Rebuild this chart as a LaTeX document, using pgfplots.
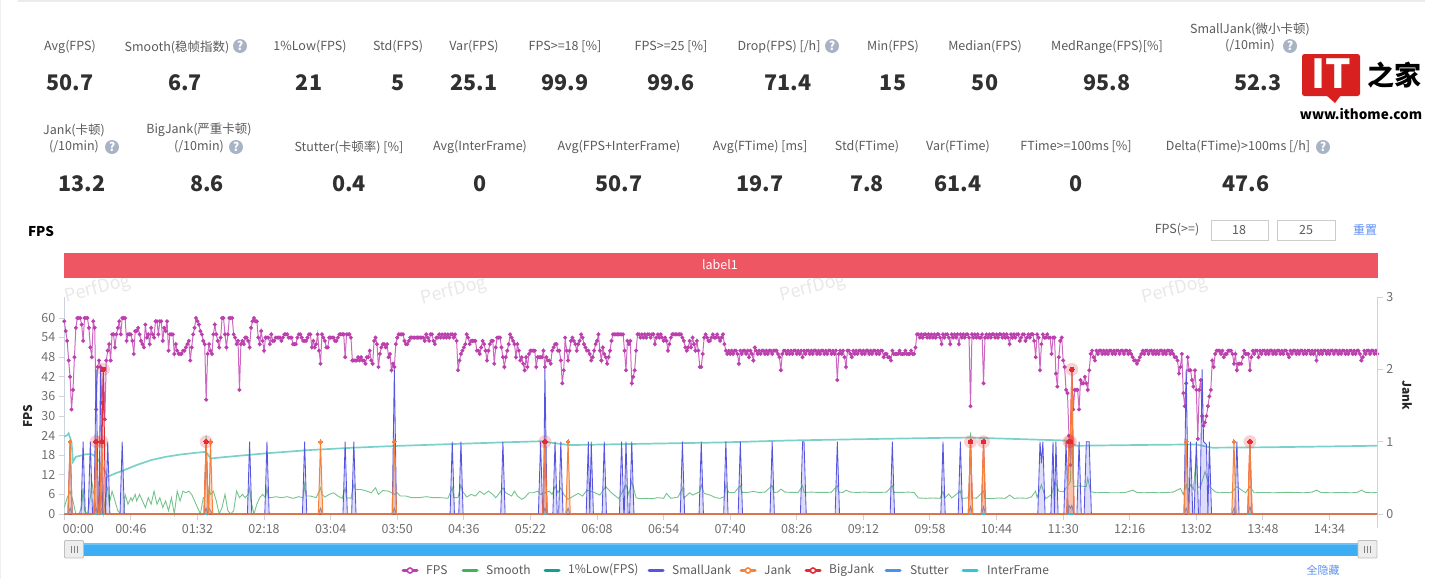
\documentclass[border=0pt]{standalone}
\usepackage{pgfplots}
\usepackage{pgfplotstable}
\usepackage{fontspec}
\pgfplotsset{compat=1.18}
\setmainfont{Noto Sans CJK SC}

\definecolor{fpsline}{HTML}{CC68C1}
\definecolor{fpsmark}{HTML}{BB3FAC}
\definecolor{smoothc}{HTML}{74C48B}
\definecolor{smoothl}{HTML}{3FB25E}
\definecolor{lowc}{HTML}{7AD1CB}
\definecolor{lowl}{HTML}{14A08F}
\definecolor{smalljc}{HTML}{5555E0}
\definecolor{jankc}{HTML}{F5813B}
\definecolor{bigjc}{HTML}{E32B36}
\definecolor{stutc}{HTML}{4A90F0}
\definecolor{interc}{HTML}{2FC6D8}
\definecolor{axisc}{HTML}{CCD3DE}
\definecolor{tickc}{HTML}{6E6E6E}
\definecolor{labc}{HTML}{5A5A5A}
\definecolor{valc}{HTML}{303030}
\definecolor{qc}{HTML}{A9B3C6}
\definecolor{barc}{HTML}{EE5664}
\definecolor{slidec}{HTML}{3DAEF3}
\definecolor{linkc}{HTML}{5C8FF0}
\definecolor{logoc}{HTML}{D8211F}

\newcommand\fs[1]{\fontsize{#1}{#1}\selectfont}
\newcommand\qm[2]{\fill[qc] (#1,#2) circle (7);\node[text=white,font=\fs{12}\bfseries] at (#1,#2) {?};}
\newcommand\lab[3]{\node[text=labc,font=\fs{12.5}] at (#1,#2) {#3};}
\newcommand\val[3]{\node[text=valc,font=\fs{21.5}\bfseries] at (#1,#2) {#3};}

% FPS, one value per second
\pgfplotstableread[row sep=crcr,header=false]{
59\\56\\53\\47\\42\\32\\38\\48\\57\\60\\60\\60\\58\\53\\60\\60\\60\\57\\51\\48\\
59\\57\\32\\45\\47\\45\\34\\44\\29\\47\\50\\52\\47\\55\\55\\51\\55\\57\\59\\55\\
60\\60\\60\\53\\55\\55\\55\\53\\49\\56\\56\\57\\55\\53\\52\\51\\58\\54\\55\\52\\
57\\55\\54\\59\\59\\55\\59\\59\\53\\57\\56\\59\\50\\55\\55\\55\\49\\52\\50\\49\\
49\\49\\50\\50\\51\\52\\53\\47\\51\\55\\57\\60\\59\\58\\56\\55\\53\\52\\35\\49\\
52\\50\\49\\55\\58\\55\\53\\51\\54\\60\\60\\55\\51\\55\\60\\60\\60\\55\\54\\52\\
53\\38\\52\\53\\52\\54\\54\\53\\51\\57\\59\\60\\59\\59\\54\\52\\56\\53\\50\\54\\
54\\54\\52\\55\\53\\53\\54\\54\\54\\54\\53\\54\\55\\55\\55\\54\\54\\54\\52\\52\\
52\\54\\55\\55\\54\\53\\53\\53\\54\\55\\55\\51\\53\\51\\52\\55\\50\\46\\55\\54\\
53\\51\\51\\54\\54\\54\\54\\53\\53\\54\\55\\55\\55\\55\\48\\55\\55\\55\\54\\47\\
47\\47\\47\\48\\47\\48\\47\\47\\46\\48\\48\\50\\47\\46\\53\\54\\52\\45\\49\\51\\
52\\52\\51\\52\\48\\49\\44\\46\\45\\52\\54\\55\\55\\55\\55\\53\\52\\52\\53\\54\\
54\\54\\54\\54\\54\\54\\54\\54\\54\\53\\55\\54\\53\\55\\55\\53\\52\\54\\54\\55\\
54\\55\\54\\55\\54\\55\\54\\55\\55\\54\\55\\53\\44\\47\\49\\50\\51\\52\\55\\54\\
52\\53\\53\\53\\53\\50\\50\\49\\51\\53\\52\\50\\47\\50\\52\\53\\53\\46\\51\\54\\
54\\54\\51\\48\\45\\48\\50\\52\\55\\54\\53\\52\\48\\52\\50\\47\\48\\46\\44\\48\\
45\\49\\50\\50\\50\\50\\45\\48\\48\\48\\48\\50\\45\\48\\47\\47\\46\\50\\51\\52\\
52\\50\\50\\47\\40\\44\\54\\50\\47\\50\\53\\54\\53\\52\\50\\52\\53\\55\\54\\52\\
51\\50\\50\\49\\47\\48\\50\\52\\53\\55\\50\\47\\51\\49\\48\\46\\48\\50\\53\\55\\
55\\55\\55\\55\\55\\55\\55\\50\\44\\53\\52\\53\\40\\42\\44\\50\\55\\55\\54\\55\\
54\\55\\54\\55\\55\\54\\55\\55\\52\\54\\55\\54\\55\\54\\53\\54\\53\\50\\52\\54\\
55\\55\\55\\55\\55\\55\\55\\54\\53\\51\\50\\51\\53\\51\\54\\52\\50\\53\\50\\45\\
45\\49\\54\\55\\54\\53\\53\\54\\55\\54\\54\\55\\54\\53\\54\\55\\52\\50\\49\\50\\
49\\50\\49\\50\\50\\49\\46\\50\\49\\50\\50\\49\\50\\48\\50\\49\\47\\51\\50\\49\\
50\\49\\50\\50\\49\\50\\49\\50\\50\\49\\50\\50\\50\\49\\48\\44\\49\\50\\50\\49\\
50\\49\\50\\49\\50\\50\\49\\50\\49\\50\\48\\50\\49\\50\\50\\49\\50\\49\\50\\50\\
49\\50\\49\\50\\50\\49\\50\\49\\50\\50\\49\\50\\49\\50\\41\\49\\50\\49\\50\\48\\
45\\50\\50\\49\\48\\50\\49\\50\\49\\50\\50\\49\\50\\49\\50\\50\\49\\50\\49\\50\\
50\\49\\50\\49\\50\\50\\48\\49\\49\\48\\48\\47\\50\\49\\49\\49\\49\\50\\49\\49\\
49\\50\\49\\49\\49\\50\\49\\49\\51\\55\\55\\54\\55\\54\\55\\55\\54\\55\\54\\55\\
54\\55\\54\\55\\55\\54\\52\\55\\54\\55\\55\\54\\52\\55\\54\\55\\54\\55\\52\\55\\
54\\55\\54\\55\\55\\54\\33\\55\\54\\55\\54\\55\\54\\54\\55\\40\\54\\55\\54\\55\\
54\\55\\55\\54\\55\\54\\55\\55\\54\\55\\54\\55\\54\\52\\55\\54\\55\\54\\55\\55\\
53\\54\\55\\55\\53\\54\\55\\54\\55\\55\\53\\48\\55\\54\\44\\52\\55\\54\\54\\55\\
54\\54\\49\\54\\54\\43\\39\\48\\53\\54\\47\\45\\38\\37\\24\\15\\44\\32\\38\\38\\
38\\32\\41\\40\\40\\42\\40\\38\\44\\49\\50\\48\\47\\50\\49\\50\\50\\49\\50\\49\\
50\\49\\50\\50\\49\\50\\49\\50\\50\\49\\50\\50\\49\\50\\50\\49\\50\\49\\48\\47\\
47\\46\\47\\48\\49\\50\\49\\50\\50\\49\\50\\50\\49\\50\\49\\50\\49\\50\\50\\49\\
50\\49\\50\\50\\49\\50\\49\\48\\48\\47\\43\\45\\49\\37\\33\\40\\48\\44\\44\\41\\
39\\44\\38\\23\\38\\41\\30\\27\\28\\30\\33\\36\\38\\47\\45\\49\\50\\50\\50\\49\\
50\\48\\49\\49\\50\\50\\50\\49\\46\\49\\44\\46\\46\\46\\48\\50\\49\\49\\49\\44\\
48\\50\\49\\50\\50\\48\\50\\49\\50\\50\\49\\50\\49\\50\\50\\49\\50\\49\\50\\50\\
49\\50\\49\\50\\50\\49\\48\\50\\49\\50\\50\\49\\50\\49\\50\\50\\49\\50\\49\\50\\
50\\49\\50\\49\\50\\47\\50\\49\\50\\49\\50\\50\\49\\50\\49\\50\\50\\49\\50\\50\\
49\\50\\49\\50\\50\\49\\50\\49\\50\\50\\49\\50\\49\\50\\50\\49\\47\\48\\50\\49\\
50\\50\\49\\50\\50\\49\\50\\49\\
}\fpsdata

\begin{document}
\begin{tikzpicture}
\path[use as bounding box] (0pt,0pt) rectangle (1440pt,-579pt);

\begin{scope}[x=1pt,y=-1pt]
\draw[color=black!8,line width=1.2] (18,1) -- (1425,1);
\draw[color=black!6,line width=1] (.5,0) -- (.5,579);
\foreach \wx/\wy in {98/289,454/291,813/288,1175/290}
  \node[text=black!9,font=\fs{18},rotate=14] at (\wx,\wy) {PerfDog};

% stats, first row
\lab{70}{47}{Avg(FPS)} \val{70}{83}{50.7}
\lab{177}{47}{Smooth(稳帧指数)} \qm{240}{46} \val{185}{83}{6.7}
\lab{310}{47}{1\%Low(FPS)} \val{309}{83}{21}
\lab{398}{47}{Std(FPS)} \val{398}{83}{5}
\lab{474}{47}{Var(FPS)} \val{474}{83}{25.1}
\lab{565}{47}{FPS>=18 [\%]} \val{565}{83}{99.9}
\lab{671}{47}{FPS>=25 [\%]} \val{671}{83}{99.6}
\lab{779}{47}{Drop(FPS) [/h]} \qm{832}{46} \val{788}{83}{71.4}
\lab{893}{47}{Min(FPS)} \val{893}{83}{15}
\lab{985}{47}{Median(FPS)} \val{985}{83}{50}
\lab{1107}{47}{MedRange(FPS)[\%]} \val{1107}{83}{95.8}
\lab{1250}{29}{SmallJank(微小卡顿)} \lab{1250}{46}{(/10min)} \qm{1290}{46} \val{1258}{83}{52.3}

% stats, second row
\lab{74}{130}{Jank(卡顿)} \lab{74}{147}{(/10min)} \qm{112}{147} \val{82}{184}{13.2}
\lab{199}{130}{BigJank(严重卡顿)} \lab{199}{147}{(/10min)} \qm{236}{147} \val{207}{184}{8.6}
\lab{349}{147}{Stutter(卡顿率) [\%]} \val{349}{184}{0.4}
\lab{480}{147}{Avg(InterFrame)} \val{480}{184}{0}
\lab{619}{147}{Avg(FPS+InterFrame)} \val{619}{184}{50.7}
\lab{760}{147}{Avg(FTime) [ms]} \val{760}{184}{19.7}
\lab{867}{147}{Std(FTime)} \val{867}{184}{7.8}
\lab{958}{147}{Var(FTime)} \val{958}{184}{61.4}
\lab{1076}{147}{FTime>=100ms [\%]} \val{1076}{184}{0}
\lab{1238}{147}{Delta(FTime)>100ms [/h]} \qm{1323}{147} \val{1246}{184}{47.6}

% logo
\fill[logoc,rounded corners=2.5] (1302,54) rectangle (1360,96);
\fill[logoc] (1326,95) -- (1341,95) -- (1335,103) -- cycle;
\node[text=white,font=\fs{40}\bfseries] at (1331,74) {IT};
\node[text=black,font=\fs{27}\bfseries] at (1394,75) {之家};
\node[text=black,font=\fs{13.5}\bfseries] at (1361,114) {www.ithome.com};

% header above the chart
\node[text=black,font=\fs{13.5}\bfseries] at (41,231) {FPS};
\lab{1177}{230}{FPS(>=)}
\draw[color=black!20,line width=1] (1211,220) rectangle (1268,240);
\draw[color=black!20,line width=1] (1277,220) rectangle (1335,240);
\lab{1239}{230}{18} \lab{1306}{230}{25}
\node[text=linkc,font=\fs{12}] at (1365,230) {重置};
\fill[barc] (64,253) rectangle (1378,278);
\node[text=white,font=\fs{12.5}] at (720,265) {label1};

% zoom slider
\fill[slidec] (83,542.5) rectangle (1358,556);
\fill[white,opacity=.25] (83,542.5) rectangle (1358,545);
\foreach \hx in {64.5,1358}{
  \draw[color=black!25,fill=black!7,line width=.8,rounded corners=1] (\hx,540.5) rectangle ++(19,17.5);
  \foreach \dx in {6.5,9.5,12.5}
    \draw[color=black!50,line width=.9] (\hx+\dx,545.5) -- ++(0,7);
}
\end{scope}

% left axis: FPS, Smooth, 1%Low
\begin{axis}[
  at={(64.3pt,-514pt)}, anchor=south west, scale only axis,
  width=1313pt, height=217pt, clip=false,
  xmin=0, xmax=907, ymin=0, ymax=66.43,
  axis y line*=left, axis x line*=bottom,
  axis line style={draw=axisc,line width=1.3pt,-},
  tick style={draw=axisc,line width=1pt},
  tick align=outside, major tick length=5.5pt,
  xtick={0,46,92,138,184,230,276,322,368,414,460,506,552,598,644,690,736,782,828,874},
  xticklabels={\hspace*{28pt}00:00,00:46,01:32,02:18,03:04,03:50,04:36,05:22,06:08,06:54,07:40,08:26,09:12,09:58,10:44,11:30,12:16,13:02,13:48,14:34},
  ytick={0,6,12,18,24,30,36,42,48,54,60},
  /pgf/number format/assume math mode=true,
  tick label style={font=\fs{12.5},text=tickc},
  xticklabel style={yshift=-1pt},
  ylabel={FPS},
  ylabel style={at={(axis description cs:-0.0279,0.452)},anchor=center,font=\fs{12}\bfseries,text=black!85},
]
\addplot[color=fpsline,line width=1pt,mark=*,mark size=1.45pt,mark options={draw=fpsmark,fill=fpsmark}]
  table[x expr=\coordindex,y index=0] {\fpsdata};

\addplot[color=smoothc,line width=.9pt,no markers] coordinates {
(0,2)(2,5)(4,7)(6,4)(8,0)(10,0)(12,2)(13,8)(14,1)(16,0)(18,5)(19,10)(20,7)(21,5)(22,1)(23,0)(25,9)(26,3)(27,0)(29,7)(30,8)(31,3)
(33,7)(35,4)(37,1)(39,0)(41,0)(42,6)(44,3)(46,5)(47,4)(49,6)(50,4)(52,6)(54,4)(56,2)(58,5)(60,3)(62,7)(64,3)(66,5)(68,2)(70,4)(72,1)
(74,5)(76,0)(78,7)(80,4)(82,7)(84,6.5)(86,7)(88,6)(90,4)(92,2)(94,0)(96,5)(97,5)(98,24)(99,5)(100,8)(101,6)(103,7)(105,4)(107,0)(109,2)
(111,6)(113,1)(115,0)(117,1)(119,7)(121,5)(123,6)(125,5)(127,6)(128,8)(129,4)(131,0)(133,3)(135,5)(137,6)(139,5)(140,8)(141,5)
(143,5)(146,5.3)(150,5)(154,5.3)(158,4.8)(162,5.3)(165,5)(166,9)(167,5.5)(170,5.5)(174,5)(177,8)(178,6)(180,5.2)(183,6)(186,6.5)
(189,5.5)(192,4.8)(194,8)(195,5)(198,4.8)(200,9)(201,7.5)(205,7.5)(209,7)(212,6.5)(215,8)(217,6)(220,7.2)(224,7)(228,6)(230,6.5)
(232,5.5)(236,5.5)(240,5)(245,5)(250,5.3)(255,5)(260,5)(265,4.8)(268,8)(269,5)(272,5)(274,9)(275,7)(278,5.2)(281,6)(284,5.5)(287,7)
(290,6)(293,7)(296,6)(298,5)(300,6)(303,8)(305,6.5)(309,5.5)(311,7)(313,5.5)(316,4.5)(318,5)(321,6.5)(324,6.5)(327,7)(329,6)(332,6.5)
(335,7)(337,6)(339,8.5)(341,6.5)(343,8)(345,6)(348,4.5)(351,5.3)(355,6.3)(358,5.5)(361,7.3)(365,6.8)(370,5.8)(374,8.4)(378,6.5)
(383,4.7)(385,6.3)(388,9)(390,6)(392,10)(395,5)(397,4.7)(402,4.8)(406,4.7)(410,5)(414,4.8)(416,6.3)(419,4.8)(424,5.2)(427,8)(428,4.9)
(432,6.5)(434,5.8)(439,6.8)(440,9)(442,6.3)(446,5.8)(450,5)(453,4.8)(456,5.3)(457,8.9)(459,6.5)(463,6.6)(467,8.7)(468,6.6)(472,6.6)
(476,6.9)(480,6.6)(484,6.7)(489,8.7)(490,6.6)(493,6.7)(495,7.6)(498,6.7)(503,6.6)(507,6.6)(510,8.7)(511,6.6)(516,6.7)(521,6.6)(526,6.6)
(530,6.7)(534,8.7)(535,6.7)(538,6.6)(540,7.3)(543,6.7)(548,6.6)(553,6.7)(558,6.6)(563,6.6)(568,6.7)(572,8.7)(573,6.6)(578,6.6)(583,6.7)
(587,6.6)(590,4.9)(595,4.8)(600,4.9)(605,4.8)(607,7)(608,4.8)(611,6.1)(613,4.9)(619,7)(620,4.8)(624,4.9)(625,6)(626,25)(627,5)(630,4.8)
(635,7)(636,4.8)(640,4.7)(645,4.9)(650,4.8)(653,5.8)(656,4.8)(660,4.9)(665,4.8)(668,5.2)(671,7)(672,5)(675,9)(677,6)(678,4.7)(682,6)
(683,7.5)(685,9.4)(687,7)(690,6.8)(692,7.8)(695,10)(696,25)(697,8.4)(701,8.6)(706,8.4)(707,11)(709,6.8)(713,6.5)(718,6.6)(723,6.5)
(728,6.5)(733,6.6)(736,7)(738,7.3)(741,6.6)(746,6.5)(751,6.6)(756,6.5)(761,6.6)(766,6.7)(771,7.8)(773,6)(775,9)(776,7)(778,9)(780,7.5)
(782,18)(783,8)(785,8.5)(788,13)(791,8.4)(795,6.8)(798,6.5)(802,6.6)(806,6.5)(810,8.4)(813,7.4)(816,6.5)(819,8.4)(822,6.5)(828,6.6)
(835,6.5)(842,6.6)(849,6.6)(856,6.5)(862,6.7)(865,7.3)(868,6.6)(875,6.5)(882,6.6)(889,6.5)(893,6.6)(896,7.3)(899,6.6)(903,6.5)(907,6.6)
};

\addplot[color=lowc,line width=1.7pt,no markers] coordinates {
(0,23.7)(2,24.1)(3,24.7)(5,22)(6,16)(8,17.5)(15,18.3)(19,18.3)(22,17.5)(25,15.5)(27,14)(30,11.4)(35,12.4)(40,13.2)(50,15)(60,16.5)(70,17.5)
(80,18.2)(90,18.7)(97,19)(98,19)(101,17)(110,17.4)(120,17.8)(130,18.2)(140,18.6)(149,18.9)(170,19.6)(200,20.3)(227,20.8)(260,21.3)(301,21.9)
(332,22.3)(335,21.9)(349,21.1)(400,21.5)(453,21.9)(500,22.5)(550,22.9)(605,23.3)(625,23.4)(692,22.5)(699,20.9)(757,21.2)(782,21.3)(787,20.8)
(793,20.3)(825,20.4)(860,20.6)(907,20.9)
};
\end{axis}

% right axis: SmallJank, Stutter, InterFrame, BigJank, Jank
\begin{axis}[
  at={(64.3pt,-514pt)}, anchor=south west, scale only axis,
  width=1313pt, height=217pt, clip=false,
  xmin=0, xmax=907, ymin=0, ymax=3,
  axis x line=none, axis y line*=right,
  axis line style={draw=axisc,line width=1.3pt,-},
  tick style={draw=axisc,line width=1pt},
  tick align=outside, major tick length=5.5pt,
  ytick={0,1,2,3},
  /pgf/number format/assume math mode=true,
  tick label style={font=\fs{12.5},text=tickc},
  ylabel={Jank},
  ylabel style={at={(axis description cs:1.0226,0.548)},anchor=center,rotate=180,font=\fs{12}\bfseries,text=black!85},
]
\addplot[color=smalljc,line width=.85pt,fill=smalljc,fill opacity=.2,no markers] coordinates {
(0,0)(2.5,0)(4,1)(5.5,0)(11.5,0)(13,1)(14.5,0)(16.5,0)(18,1)(19.5,0)(20.5,0)(22,2)(23.5,0)(24,0)(25,2)(26.5,0)(28.5,0)(30,1)(31.5,0)
(38.5,0)(40,1)(41.5,0)(126.5,0)(128,1)(129.5,0)(138.5,0)(140,1)(141.5,0)(164.5,0)(166,1)(167.5,0)(192.5,0)(194,1)(195.5,0)(198.5,0)(200,1)(201.5,0)
(226.5,0)(228,2)(229.5,0)(266.5,0)(268,1)(269.5,0)(272.5,0)(274,1)(275.5,0)(301.5,0)(303,1)(304.5,0)(327.5,0)(329,1)(330.5,0)(331,0)(332,2)(333.5,0)
(337.5,0)(339,1)(340.5,0)(341.5,0)(343,1)(344.5,0)(360.5,0)(362,1)(363,0)(364,1)(365.5,0)(371.5,0)(373,1)(374.5,0)(383.5,0)(385,1)(386.5,0)
(386.8,0)(388,1)(389.5,0)(390.5,0)(392,1)(393.5,0)(425.5,0)(427,1)(428.5,0)(438.5,0)(440,1)(441.5,0)(455.5,0)(457,1)(458.5,0)(465.5,0)(467,1)(468.5,0)
(487.5,0)(489,1)(490.5,0)(508.5,0)(510,1)(511,1)(512.5,0)(532.5,0)(534,1)(535.5,0)(570.5,0)(572,1)(573.5,0)(605.5,0)(607,1)(608.5,0)(617.5,0)(619,1)(620.5,0)
(672.5,0)(674,1)(675,.7)(676,1)(677.5,0)(681.5,0)(683,1)(684,0)(685,1)(686.5,0)(690.5,0)(692,1)(693.5,0)(699.5,0)(701,1)(702.5,0)(704.5,0)(706,1)(708,1)(709.5,0)
(773.5,0)(775,2)(776.5,0)(776.8,0)(778,1)(779.5,0)(780.5,0)(782,1)(783.5,0)(784.5,0)(786,2)(787,1)(789,.96)(790,0)(791,1)(792.5,0)(808.5,0)(810,1)(811.5,0)(907,0)
};
\addplot[color=stutc,line width=.9pt,fill=stutc,fill opacity=.3,no markers] coordinates {
(0,0)(2.5,0)(4,.08)(5.5,0)(20.5,0)(22,.08)(23.5,0)(24.5,0)(26,.08)(27.5,0)(96.5,0)(98,.08)(99,0)(100,.08)(102.5,0)(175.5,0)(177,.08)(178.5,0)
(226.5,0)(228,.08)(229.5,0)(330.5,0)(332,.08)(333.5,0)(346.5,0)(348,.08)(349.5,0)(624.5,0)(626,.1)(627.5,0)(633.5,0)(635,.1)(636.5,0)
(692.5,0)(694,.12)(695,.08)(696,.12)(697.5,0)(773.5,0)(775,.08)(776.5,0)(806.5,0)(808,.08)(809.5,0)(817.5,0)(819,.1)(820.5,0)(907,0)
};
\addplot[color=interc,line width=1pt,no markers] coordinates {(0,0)(907,0)};
\addplot[color=bigjc,line width=1pt,fill=bigjc,fill opacity=.15,no markers] coordinates {
(0,0)(20.5,0)(22,1)(23.5,0)(24.5,0)(26,1)(27,2)(28.5,0)(96.5,0)(98,1)(99.5,0)(330.5,0)(332,1)(333.5,0)(624.5,0)(626,1)(627.5,0)(633.5,0)(635,1)(636.5,0)
(692.5,0)(694,1)(695,1)(696,2)(697.5,0)(817.5,0)(819,1)(820.5,0)(907,0)
};
\addplot[color=jankc,line width=1pt,fill=jankc,fill opacity=.3,no markers] coordinates {
(0,0)(2.5,0)(4,1)(5.5,0)(20.5,0)(22,1)(23.5,0)(24.5,0)(26,1)(27.5,0)(96.5,0)(98,1)(99.5,0)(99.8,0)(101,1)(102.5,0)(175.5,0)(177,1)(178.5,0)
(226.5,0)(228,1)(229.5,0)(330.5,0)(332,1)(333.5,0)(346.5,0)(348,1)(349.5,0)(624.5,0)(626,1)(627.5,0)(633.5,0)(635,1)(636.5,0)
(692.5,0)(694,1)(695,1)(696,2)(697.5,0)(773.5,0)(775,1)(776.5,0)(806.5,0)(808,1)(809.5,0)(817.5,0)(819,1)(820.5,0)(907,0)
};
% peak marks
\addplot[only marks,color=jankc,mark=*,mark size=1.9pt,mark options={draw=jankc,fill=jankc,line width=0pt}] coordinates {
(4,1)(101,1)(177,1)(228,1)(348,1)(775,1)(808,1)
};
\addplot[only marks,color=bigjc,mark=*,mark size=6.5pt,mark options={draw=bigjc,fill=bigjc,draw opacity=0,fill opacity=.22,line width=0pt}] coordinates {
(22,1)(26,1)(27,2)(98,1)(332,1)(626,1)(635,1)(694,1)(695,1)(696,2)(819,1)
};
\addplot[only marks,color=bigjc,mark=*,mark size=2.3pt,mark options={draw=bigjc,fill=bigjc,line width=0pt}] coordinates {
(22,1)(26,1)(27,2)(98,1)(332,1)(626,1)(635,1)(694,1)(695,1)(696,2)(819,1)
};
\end{axis}

\begin{scope}[x=1pt,y=-1pt]
\draw[color=axisc,line width=1.3] (1377.3,514) -- (1377.3,528);
% legend
\newcommand\legline[3]{\draw[color=#3,line width=3,line cap=round] (#1,570.5) -- (#2,570.5);}
\newcommand\legdot[2]{\fill[white,draw=#2,line width=1.5] (#1,570.5) circle (2.6);}
\newcommand\legtext[2]{\node[anchor=west,inner sep=0,text=labc,font=\fs{12}] at (#1,570) {#2};}
\legline{403}{417}{fpsmark} \legdot{410}{fpsmark} \legtext{426}{FPS}
\legline{463}{477}{smoothl} \legtext{486}{Smooth}
\legline{545}{559}{lowl} \legtext{568}{1\%Low(FPS)}
\legline{649}{663}{smalljc} \legtext{672}{SmallJank}
\legline{741}{755}{jankc} \legdot{748}{jankc} \legtext{764}{Jank}
\legline{806}{820}{bigjc} \legdot{813}{bigjc} \legtext{829}{BigJank}
\legline{886}{900}{stutc} \legtext{910}{Stutter}
\legline{963}{977}{interc} \legtext{987}{InterFrame}
\node[text=linkc,font=\fs{11}] at (1323,570) {全隐藏};
\end{scope}
\end{tikzpicture}
\end{document}
